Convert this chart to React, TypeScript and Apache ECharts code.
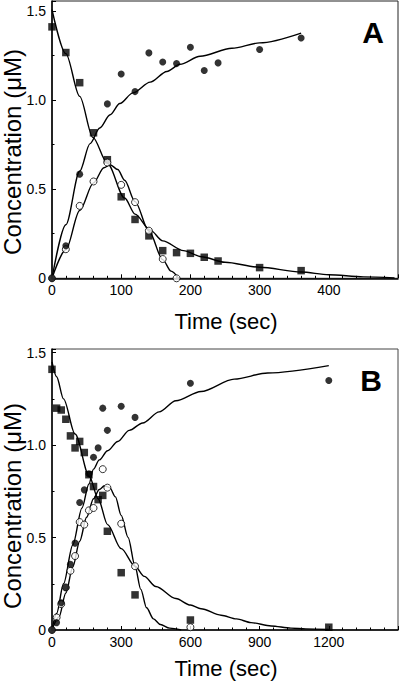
import React, { useEffect, useRef } from "react";
import * as echarts from "echarts";

// ---------- Panel A data ----------
const A_SQ_T = [0, 20, 40, 60, 80, 100, 120, 140, 160, 180, 200, 220, 240, 300, 360];
const A_SQ_C = [1.41, 1.266, 1.097, 0.816, 0.665, 0.457, 0.33, 0.238, 0.155, 0.144, 0.14, 0.118, 0.097, 0.06, 0.043];
const A_FC_T = [0, 20, 40, 80, 100, 120, 140, 160, 180, 200, 220, 240, 300, 360];
const A_FC_C = [0, 0.183, 0.584, 0.978, 1.146, 1.047, 1.264, 1.213, 1.204, 1.296, 1.165, 1.208, 1.283, 1.348];
const A_OC_T = [0, 20, 40, 60, 80, 100, 120, 140, 160, 180];
const A_OC_C = [0, 0.163, 0.406, 0.543, 0.649, 0.524, 0.427, 0.267, 0.108, 0];

const A_FIT_SQ_T = [0, 20, 40, 59, 80, 105, 120, 142, 160, 190, 216, 250, 300, 360, 400, 450, 495];
const A_FIT_SQ_C = [1.507, 1.26, 1.02, 0.79, 0.645, 0.45, 0.36, 0.27, 0.21, 0.155, 0.121, 0.09, 0.062, 0.035, 0.02, 0.008, 0.002];
const A_FIT_FC_T = [0, 20, 40, 55, 69, 84, 98, 117, 142, 166, 185, 214, 260, 300, 360];
const A_FIT_FC_C = [0, 0.3, 0.6, 0.755, 0.843, 0.917, 0.98, 1.04, 1.1, 1.16, 1.2, 1.245, 1.29, 1.32, 1.375];
const A_FIT_OC_T = [0, 20, 40, 60, 75, 84, 95, 105, 120, 140, 160, 172, 183];
const A_FIT_OC_C = [0, 0.16, 0.38, 0.535, 0.62, 0.637, 0.61, 0.55, 0.43, 0.265, 0.105, 0.04, 0];

// ---------- Panel B data ----------
const B_SQ_T = [0, 20, 40, 60, 80, 100, 120, 140, 160, 180, 200, 220, 240, 300, 360, 600, 1200];
const B_SQ_C = [1.41, 1.2, 1.19, 1.14, 1.05, 0.985, 1.02, 0.96, 0.84, 0.776, 0.705, 0.728, 0.534, 0.31, 0.19, 0.054, 0.015];
const B_FC_T = [0, 20, 40, 60, 80, 100, 120, 140, 160, 180, 200, 220, 240, 300, 360, 600, 1200];
const B_FC_C = [0, 0.04, 0.147, 0.23, 0.356, 0.47, 0.69, 0.758, 0.845, 0.934, 0.985, 1.2, 1.08, 1.21, 1.15, 1.335, 1.35];
const B_OC_T = [0, 20, 40, 60, 80, 100, 120, 140, 160, 180, 220, 240, 300, 360, 600];
const B_OC_C = [0, 0.068, 0.14, 0.23, 0.32, 0.4, 0.584, 0.57, 0.647, 0.66, 0.87, 0.77, 0.575, 0.345, 0.015];

const B_FIT_SQ_T = [0, 20, 50, 100, 162, 200, 241, 300, 360, 400, 450, 537, 600, 646, 733, 800, 863, 950, 1036, 1100, 1200];
const B_FIT_SQ_C = [1.45, 1.37, 1.25, 1.06, 0.83, 0.71, 0.57, 0.44, 0.345, 0.29, 0.235, 0.17, 0.135, 0.115, 0.08, 0.06, 0.04, 0.022, 0.01, 0.006, 0.003];
const B_FIT_FC_T = [0, 20, 50, 90, 130, 160, 180, 205, 241, 285, 335, 393, 465, 537, 646, 790, 935, 1200];
const B_FIT_FC_C = [0, 0.09, 0.25, 0.46, 0.66, 0.79, 0.87, 0.92, 0.97, 1.02, 1.08, 1.12, 1.18, 1.24, 1.29, 1.357, 1.39, 1.43];
const B_FIT_OC_T = [0, 30, 60, 90, 120, 150, 180, 205, 227, 250, 275, 300, 330, 360, 385, 410, 440, 470, 510, 560];
const B_FIT_OC_C = [0, 0.07, 0.2, 0.34, 0.48, 0.61, 0.71, 0.76, 0.78, 0.77, 0.72, 0.62, 0.5, 0.345, 0.22, 0.12, 0.06, 0.03, 0.01, 0];

// ---------- axis labels ----------
const X_NAME = "Time (sec)";
const Y_NAME = "Concentration (\u03bcM)";
const PANEL_LABELS = ["A", "B"];

const FONT = '"Liberation Sans", Arial, Helvetica, sans-serif';

const zip = (t: number[], c: number[]) => t.map((v, i) => [v, c[i]]);

function xAxisCfg(grid: number, max: number, interval: number, minorSplit: number) {
  return {
    type: "value",
    gridIndex: grid,
    min: 0,
    max,
    interval,
    axisLine: { show: true, onZero: false, lineStyle: { color: "#000", width: 1.5 } },
    axisTick: { show: true, inside: true, length: 4, lineStyle: { color: "#000", width: 1 } },
    minorTick: { show: true, splitNumber: minorSplit, length: 2.5, lineStyle: { color: "#000", width: 1 } },
    splitLine: { show: false },
    minorSplitLine: { show: false },
    axisLabel: {
      show: true,
      showMaxLabel: false,
      color: "#000",
      fontSize: 14,
      fontFamily: FONT,
      margin: 5,
      formatter: (v: number) => String(v),
    },
  };
}

function yAxisCfg(grid: number, max: number) {
  return {
    type: "value",
    gridIndex: grid,
    min: 0,
    max,
    interval: 0.5,
    axisLine: { show: true, onZero: false, lineStyle: { color: "#000", width: 1.5 } },
    axisTick: { show: true, inside: true, length: 4, lineStyle: { color: "#000", width: 1 } },
    minorTick: { show: true, splitNumber: 2, length: 2.5, lineStyle: { color: "#000", width: 1 } },
    splitLine: { show: false },
    minorSplitLine: { show: false },
    axisLabel: {
      show: true,
      showMaxLabel: false,
      color: "#000",
      fontSize: 14,
      fontFamily: FONT,
      margin: 6,
      formatter: (v: number) => (v === 0 ? "0" : v.toFixed(1)),
    },
  };
}

function fitLine(idx: number, t: number[], c: number[]) {
  return {
    type: "line",
    xAxisIndex: idx,
    yAxisIndex: idx,
    data: zip(t, c),
    showSymbol: false,
    symbol: "none",
    smooth: 0.3,
    smoothMonotone: "x",
    lineStyle: { color: "#000", width: 1.4 },
    z: 2,
    silent: true,
  };
}

function squares(idx: number, t: number[], c: number[]) {
  return {
    type: "scatter",
    xAxisIndex: idx,
    yAxisIndex: idx,
    data: zip(t, c),
    symbol: "rect",
    symbolSize: 7.5,
    itemStyle: { color: "#000" },
    z: 3,
    silent: true,
  };
}

function openCircles(idx: number, t: number[], c: number[]) {
  return {
    type: "scatter",
    xAxisIndex: idx,
    yAxisIndex: idx,
    data: zip(t, c),
    symbol: "circle",
    symbolSize: 7,
    itemStyle: { color: "#fff", borderColor: "#000", borderWidth: 1 },
    z: 4,
    silent: true,
  };
}

function filledCircles(idx: number, t: number[], c: number[]) {
  return {
    type: "scatter",
    xAxisIndex: idx,
    yAxisIndex: idx,
    data: zip(t, c),
    symbol: "circle",
    symbolSize: 7,
    itemStyle: { color: "#000" },
    z: 5,
    silent: true,
  };
}

export default function App() {
  const ref = useRef<HTMLDivElement>(null);

  useEffect(() => {
    if (!ref.current) return;
    const chart = echarts.init(ref.current, null, { renderer: "svg" });

    const option: any = {
      animation: false,
      backgroundColor: "#fff",
      grid: [
        { left: 52, top: 1, width: 346, height: 277.3, show: true, borderColor: "#222", borderWidth: 1, backgroundColor: "transparent" },
        { left: 52, top: 349, width: 346, height: 281, show: true, borderColor: "#444", borderWidth: 1, backgroundColor: "transparent" },
      ],
      xAxis: [xAxisCfg(0, 500, 100, 5), xAxisCfg(1, 1500, 300, 5)],
      yAxis: [yAxisCfg(0, 1.555), yAxisCfg(1, 1.52)],
      series: [
        fitLine(0, A_FIT_SQ_T, A_FIT_SQ_C),
        fitLine(0, A_FIT_FC_T, A_FIT_FC_C),
        fitLine(0, A_FIT_OC_T, A_FIT_OC_C),
        squares(0, A_SQ_T, A_SQ_C),
        openCircles(0, A_OC_T, A_OC_C),
        filledCircles(0, A_FC_T, A_FC_C),
        fitLine(1, B_FIT_SQ_T, B_FIT_SQ_C),
        fitLine(1, B_FIT_FC_T, B_FIT_FC_C),
        fitLine(1, B_FIT_OC_T, B_FIT_OC_C),
        squares(1, B_SQ_T, B_SQ_C),
        openCircles(1, B_OC_T, B_OC_C),
        filledCircles(1, B_FC_T, B_FC_C),
      ],
      graphic: [
        {
          type: "text",
          x: 226,
          y: 321,
          style: { text: X_NAME, fill: "#000", font: `22px ${FONT}`, textAlign: "center", textVerticalAlign: "middle" },
        },
        {
          type: "text",
          x: 226,
          y: 668,
          style: { text: X_NAME, fill: "#000", font: `22px ${FONT}`, textAlign: "center", textVerticalAlign: "middle" },
        },
        {
          type: "text",
          x: 12.5,
          y: 152,
          rotation: Math.PI / 2,
          style: { text: Y_NAME, fill: "#000", font: `24px ${FONT}`, textAlign: "center", textVerticalAlign: "middle" },
        },
        {
          type: "text",
          x: 12.5,
          y: 506,
          rotation: Math.PI / 2,
          style: { text: Y_NAME, fill: "#000", font: `24px ${FONT}`, textAlign: "center", textVerticalAlign: "middle" },
        },
        {
          type: "text",
          x: 373,
          y: 32,
          style: { text: PANEL_LABELS[0], fill: "#000", font: `bold 30px ${FONT}`, textAlign: "center", textVerticalAlign: "middle" },
        },
        {
          type: "text",
          x: 371,
          y: 380,
          style: { text: PANEL_LABELS[1], fill: "#000", font: `bold 30px ${FONT}`, textAlign: "center", textVerticalAlign: "middle" },
        },
      ],
    };

    chart.setOption(option);
    return () => chart.dispose();
  }, []);

  return (
    <div
      ref={ref}
      style={{ position: "absolute", left: 0, top: 0, width: 400, height: 681, background: "#fff" }}
    />
  );
}
